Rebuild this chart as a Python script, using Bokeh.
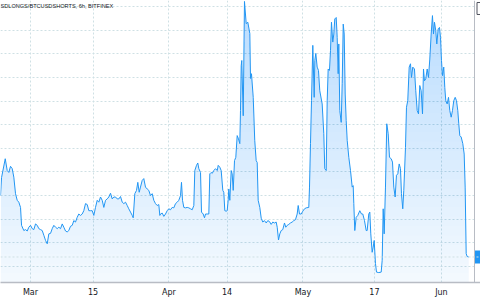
import numpy as np
import pandas as pd
from bokeh.plotting import figure
from bokeh.models import Range1d, FixedTicker, Span, Label
from bokeh.embed import file_html
from bokeh.resources import INLINE

# ---------------- data ----------------
START = "2020-03-01"
# offsets in days from START of each 6h sample that was read
day = [-6.72, -6.49, -5.66, -5.22, -4.86, -4.48, -4.1, -3.74, -3.36, -2.98, -2.62, -2.24, -2.01, -1.5, -1.12, -0.74, -0.38,
       0.0, 0.38, 0.74, 1.12, 1.5, 1.86, 2.24, 2.62, 2.98, 3.36, 3.74, 4.1, 4.48, 4.86, 5.22, 5.6, 5.98, 6.34, 6.72,
       7.1, 7.45, 7.84, 8.2, 8.57, 8.95, 9.34, 9.69, 10.07, 10.45, 10.81, 11.19, 11.57, 11.93, 12.31, 12.69, 13.05,
       13.43, 13.81, 14.17, 14.55, 14.93, 15.29, 15.67, 16.05, 16.41, 16.79, 17.17, 17.53, 17.91, 18.29, 18.65,
       19.03, 19.41, 19.77, 20.15, 20.53, 20.89, 21.27, 21.65, 22.0, 22.39, 22.77, 22.99, 23.35, 23.73, 24.02,
       24.33, 24.62, 25.0, 25.36, 25.74, 26.12, 26.48, 26.86, 27.24, 27.6, 27.98, 28.36, 28.72, 28.95, 29.1, 29.48,
       29.84, 30.22, 30.6, 30.96, 31.34, 31.72, 32.08, 32.46, 32.84, 33.2, 33.58, 33.8, 34.03, 34.32, 34.7, 35.08,
       35.44, 35.82, 36.2, 36.56, 36.78, 37.16, 37.45, 37.68, 38.06, 38.28, 38.66, 38.95, 39.18, 39.56, 39.92,
       40.14, 40.45, 40.68, 41.03, 41.42, 41.8, 42.02, 42.38, 42.69, 43.05, 43.27, 43.5, 43.81, 44.03, 44.26,
       44.39, 44.62, 44.93, 45.15, 45.38, 45.67, 45.96, 46.27, 46.56, 46.86, 47.01, 47.17, 47.3, 47.62, 47.9,
       48.29, 48.65, 49.1, 49.25, 49.47, 49.86, 50.2, 50.52, 50.75, 50.97, 51.33, 51.65, 52.0, 52.38, 52.77,
       53.12, 53.5, 53.88, 54.24, 54.62, 55.0, 55.23, 55.52, 55.81, 56.12, 56.48, 56.86, 57.15, 57.47, 57.82,
       58.2, 58.58, 58.94, 59.32, 59.7, 59.93, 60.22, 60.6, 60.96, 61.34, 61.72, 62.3, 62.46, 62.68, 62.91, 63.2,
       63.51, 63.65, 63.87, 64.18, 64.47, 64.76, 65.3, 65.66, 65.88, 66.2, 66.42, 66.64, 66.93, 67.16, 67.38,
       67.67, 67.9, 68.12, 68.44, 68.66, 68.88, 69.02, 69.24, 69.56, 69.78, 70.01, 70.23, 70.45, 70.67, 70.9,
       71.26, 71.64, 72.02, 72.24, 72.38, 72.6, 72.91, 73.27, 73.72, 74.1, 74.39, 74.77, 75.15, 75.37, 75.73,
       75.96, 76.18, 76.49, 76.72, 76.94, 77.23, 77.46, 77.97, 78.51, 78.73, 78.96, 79.18, 79.47, 79.76, 80.08,
       80.37, 80.75, 81.04, 81.33, 81.64, 81.93, 82.23, 82.54, 82.83, 83.05, 83.34, 83.57, 83.95, 84.17, 84.46,
       84.78, 85.07, 85.29, 85.58, 85.96, 86.25, 86.57, 86.86, 87.15, 87.46, 87.76, 87.98, 88.2, 88.49, 88.81,
       89.1, 89.39, 89.7, 89.99, 90.22, 90.44, 90.73, 90.96, 91.27, 91.56, 91.79, 92.01, 92.23, 92.52, 92.75,
       92.97, 93.28, 93.58, 93.87, 94.18, 94.47, 94.76, 95.08, 95.37, 95.66, 95.88, 96.11, 96.42, 96.78, 97.09,
       97.31, 97.54, 97.76, 98.12]
# BTCUSDLONGS / BTCUSDSHORTS ratio
ratio = [2.00, 2.38, 2.78, 2.53, 2.49, 2.62, 2.57, 2.39, 2.04, 1.90, 1.86, 1.75, 1.37, 1.26, 1.28, 1.25, 1.33,
         1.37, 1.30, 1.28, 1.40, 1.37, 1.30, 1.28, 1.26, 1.16, 1.05, 0.98, 1.19, 1.20, 1.30, 1.37, 1.33, 1.30, 1.33, 1.30,
         1.40, 1.33, 1.25, 1.23, 1.26, 1.35, 1.37, 1.47, 1.44, 1.54, 1.61, 1.58, 1.61, 1.68, 1.83, 1.81, 1.68,
         1.68, 1.68, 1.58, 1.75, 1.90, 1.86, 1.97, 1.90, 1.75, 1.90, 1.93, 1.97, 2.05, 1.93, 1.97,
         1.97, 1.93, 1.93, 1.98, 1.86, 1.83, 1.86, 1.79, 1.72, 1.65, 1.58, 1.53, 2.04, 2.11, 2.28,
         2.07, 2.18, 2.32, 2.36, 2.18, 2.14, 2.11, 2.00, 2.04, 1.90, 1.83, 1.79, 1.81, 1.58, 1.61, 1.63,
         1.56, 1.61, 1.68, 1.72, 1.70, 1.75, 1.74, 1.83, 1.86, 1.90, 2.00, 2.28, 1.90, 1.75, 1.74, 1.75,
         1.74, 1.72, 1.70, 1.79, 2.53, 2.64, 2.69, 2.57, 2.49, 1.65, 1.61, 1.53, 1.61, 1.61, 1.61,
         2.46, 2.49, 2.47, 2.53, 2.57, 2.53, 2.64, 2.60, 2.53, 2.11, 2.07, 1.68, 1.67, 1.68, 1.91,
         2.14, 1.90, 2.53, 2.46, 2.11, 2.74, 2.81, 3.27, 3.20, 3.10, 3.80, 4.75, 4.86, 3.69, 6.11,
         5.64, 5.67, 5.43, 4.48, 4.58, 4.08, 3.17, 2.74, 2.70, 1.90, 1.75, 1.52, 1.44, 1.47, 1.42,
         1.47, 1.45, 1.39, 1.44, 1.42, 1.44, 1.33, 1.06, 1.19, 1.26, 1.28, 1.42, 1.33, 1.37, 1.39,
         1.42, 1.44, 1.47, 1.49, 1.61, 1.79, 1.61, 1.61, 1.67, 1.72, 1.74, 1.75, 2.18, 3.10, 4.01, 5.18,
         4.08, 4.86, 5.01, 4.72, 4.65, 4.22, 3.94, 3.31, 2.57, 2.53, 4.01, 4.68, 4.65, 5.07, 5.67,
         5.25, 5.42, 5.74, 5.77, 5.35, 4.58, 5.21, 3.80, 3.55, 4.37, 5.63, 5.42, 4.15, 3.59, 3.17,
         2.81, 2.53, 2.18, 2.21, 1.83, 1.26, 1.54, 1.58, 1.68, 1.61, 1.61, 1.47, 1.26, 1.26, 1.61,
         1.65, 1.19, 0.80, 0.91, 1.05, 0.56, 0.38, 0.37, 0.38, 0.63, 1.72, 1.19, 2.18, 3.52, 3.31,
         2.81, 2.78, 2.71, 2.18, 1.97, 2.43, 2.46, 2.67, 2.57, 2.04, 1.72, 2.11, 3.02, 3.87, 4.01,
         4.72, 4.79, 4.50, 4.72, 4.68, 4.22, 3.80, 3.73, 4.33, 4.22, 3.73, 4.68, 4.43, 4.47, 4.68,
         4.50, 4.89, 5.42, 5.81, 5.42, 5.67, 5.49, 5.21, 5.53, 5.56, 5.35, 4.86, 4.54, 4.72, 4.29,
         4.01, 3.94, 4.08, 3.80, 3.66, 3.80, 4.01, 4.08, 4.01, 3.80, 3.52, 3.27, 3.24, 3.10, 2.88,
         2.18, 0.77, 0.71, 0.70]

tick_dates = ["2020-03-01", "2020-03-15", "2020-04-01", "2020-04-14", "2020-05-01", "2020-05-17", "2020-06-01"]
tick_labels = ["Mar", "15", "Apr", "14", "May", "17", "Jun"]
y_grid = [0.5, 1.0, 1.5, 2.0, 2.5, 3.0, 3.5, 4.0, 4.5, 5.0, 5.5, 6.0]
title_text = "SDLONGS/BTCUSDSHORTS, 6h, BITFINEX"

# ---------------- view ----------------
X_START = pd.Timestamp("2020-02-23 06:40")
X_BORDER = pd.Timestamp("2020-06-08 09:40")   # where the price scale begins
X_END = pd.Timestamp("2020-06-09 17:52")      # right edge of the window
Y_LO, Y_HI = 0.16, 6.13
PX_PER_UNIT = 47.27                           # vertical pixels per ratio unit
PX_PER_HOUR = 4.4664 / 24

LINE = "#2196f3"
GRID = "#cfe0e4"
AXIS = "#b8bcc4"

t = pd.Timestamp(START) + pd.to_timedelta(np.array(day), unit="D")
v = np.array(ratio)

p = figure(width=480, height=300, x_axis_type="datetime", y_axis_location=None,
           x_range=Range1d(X_START, X_END), y_range=Range1d(Y_LO, Y_HI),
           output_backend="svg", toolbar_location=None,
           min_border_left=0, min_border_right=0, min_border_top=0, min_border_bottom=18)
p.outline_line_color = None
p.background_fill_color = "white"
p.border_fill_color = "white"

# gradient-like area fill: overlapping layers, denser toward the top
tm = t.values.astype("datetime64[ms]").astype(np.int64).astype(float)
dense = np.linspace(tm[0], tm[-1], 3000)
vd = np.interp(dense, tm, v)
td = pd.to_datetime(dense, unit="ms")
p.varea(x=td, y1=Y_LO, y2=vd, fill_color=LINE, fill_alpha=0.045)
n_layers = 30
edges = np.linspace(Y_LO, Y_HI, n_layers + 1)[:-1]
for e in edges:
    p.varea(x=td, y1=e, y2=np.maximum(vd, e), fill_color=LINE, fill_alpha=0.006)

p.line(t, v, line_color=LINE, line_width=1.0)

# price-scale strip on the right (hides the grid), its border and tags
p.quad(left=[X_BORDER], right=[X_END], bottom=[Y_LO], top=[Y_HI],
       fill_color="white", line_color=None)
p.add_layout(Span(location=X_BORDER, dimension="height", line_color=AXIS, line_width=1))

# last value line
p.add_layout(Span(location=ratio[-1], dimension="width", line_color=GRID,
                  line_dash="2 2", line_width=1))
half_h = 6.5 / PX_PER_UNIT
p.quad(left=[X_BORDER + pd.Timedelta(hours=0.5 / PX_PER_HOUR)], right=[X_END],
       bottom=[ratio[-1] - half_h], top=[ratio[-1] + half_h],
       fill_color=LINE, line_color=None)
# small price-scale tag at top right
p.quad(left=[X_BORDER + pd.Timedelta(hours=2.5 / PX_PER_HOUR)], right=[X_END + pd.Timedelta(days=1)],
       bottom=[Y_HI - 14 / PX_PER_UNIT], top=[Y_HI - 2 / PX_PER_UNIT],
       fill_color="white", line_color="#50535e", line_width=1)

# x axis
ticks_ms = [float(pd.Timestamp(d).value // 10**6) for d in tick_dates]
p.xaxis.ticker = FixedTicker(ticks=ticks_ms)
p.xaxis.major_label_overrides = {k: lab for k, lab in zip(ticks_ms, tick_labels)}
p.xaxis.major_tick_out = 0
p.xaxis.major_tick_in = 0
p.xaxis.minor_tick_line_color = None
p.xaxis.axis_line_color = AXIS
p.xaxis.axis_line_width = 1.5
p.xaxis.major_label_standoff = 5
p.xaxis.major_label_text_font = "DejaVu Sans"
p.xaxis.major_label_text_font_size = "8px"
p.xaxis.major_label_text_color = "#131722"

# grids
p.xgrid.grid_line_color = GRID
p.xgrid.grid_line_dash = "2 2"
p.ygrid.ticker = FixedTicker(ticks=y_grid)
p.ygrid.grid_line_color = GRID
p.ygrid.grid_line_dash = "2 2"

# title
p.add_layout(Label(x=X_START, y=Y_HI, x_offset=0, y_offset=-5, text=title_text,
                   text_font="Liberation Sans", text_font_size="5.6px", text_color="#131722",
                   text_baseline="middle", text_align="left"))

open("out.html", "w").write(file_html(p, INLINE))
